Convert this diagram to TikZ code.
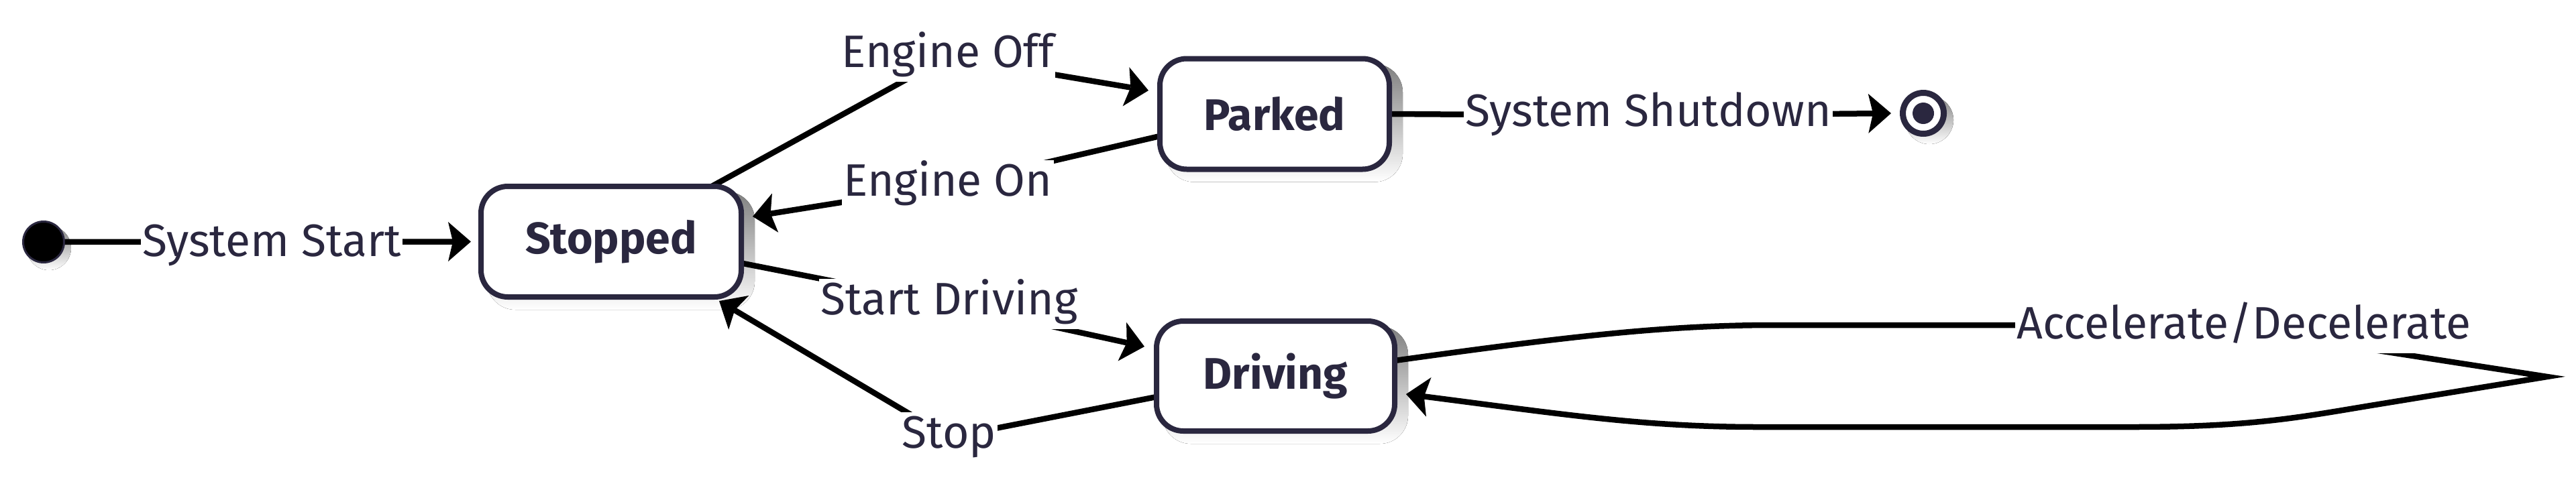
\documentclass[tikz,border=0pt]{standalone}
\usepackage{fontspec}
\setmainfont{Fira Sans}
\usetikzlibrary{arrows.meta,calc}
\definecolor{ink}{HTML}{2A273F}
\definecolor{shade}{HTML}{ECECEC}
\pgfdeclarelayer{shadowlayer}
\pgfdeclarelayer{edgelayer}
\pgfsetlayers{shadowlayer,edgelayer,main}
\begin{document}
\begin{tikzpicture}[
  statebox/.style={draw=ink, line width=0.08cm, fill=white, rounded corners=0.40cm, outer sep=0pt, inner sep=0pt, minimum height=1.65cm, text=ink, font=\fontsize{18.8}{22}\selectfont\bfseries},
  lbl/.style={fill=white, text=ink, inner xsep=0.02cm, inner ysep=0.05cm, text height=0.48cm, text depth=0.17cm, anchor=base, font=\fontsize{19.3}{22}\selectfont},
  conn/.style={draw=black, line width=0.085cm},
  arr/.style={conn, -{Stealth[length=0.34cm, width=0.59cm, inset=0.07cm, line width=0pt]}},
  startdot/.style={circle, fill=black, draw=ink, line width=0.03cm, minimum size=0.61cm, inner sep=0pt, outer sep=0pt},
  enddot/.style={circle, fill=white, draw=ink, line width=0.09cm, minimum size=0.61cm, inner sep=0pt, outer sep=0pt},
]
\useasboundingbox (0,0) rectangle (38.4,-7.33);

% states
\node[startdot] (init) at (0.65,-3.61) {};
\node[statebox, minimum width=3.88cm] (stopped) at (9.11,-3.605) {Stopped};
\node[statebox, minimum width=3.42cm] (parked) at (19.00,-1.70) {Parked};
\node[statebox, minimum width=3.55cm, minimum height=1.64cm] (driving) at (19.015,-5.61) {Driving};
\node[enddot] (final) at (28.67,-1.69) {};
\fill[ink] (final.center) circle (0.16);

% labels
\node[lbl] (sstart) at (4.05,-3.82) {System Start};
\node[lbl] (eoff) at (14.13,-1.00) {Engine Off};
\node[lbl] (eon) at (14.13,-2.92) {Engine On};
\node[lbl] (sdrive) at (14.15,-4.69) {Start Driving};
\node[lbl] (stop) at (14.15,-6.68) {Stop};
\node[lbl] (shut) at (24.57,-1.88) {System Shutdown};
\node[lbl] (accel) at (33.45,-5.05) {Accelerate/Decelerate};

% shadows
\begin{pgfonlayer}{shadowlayer}
\foreach \n in {stopped,parked,driving}{
  \fill[shade, rounded corners=0.42cm] ($(\n.south west)+(0.09,-0.19)$) rectangle ($(\n.north east)+(0.20,-0.08)$);
}
\fill[shade] ($(init.center)+(0.08,-0.09)$) circle (0.33);
\fill[shade] ($(final.center)+(0.09,-0.10)$) circle (0.36);
\end{pgfonlayer}

% connectors
\begin{pgfonlayer}{edgelayer}
\draw[arr] (init) -- ($(stopped.west)+(-0.15,0)$);
\draw[arr] ($(stopped.north)+(1.50,0)$) -- (eoff.center) -- ($(parked.west)+(-0.17,0.35)$);
\draw[arr] ($(parked.west)+(0,-0.33)$) -- (eon.center) -- ($(stopped.east)+(0.17,0.375)$);
\draw[arr] ($(stopped.east)+(0,-0.32)$) -- (sdrive.center) -- ($(driving.west)+(-0.18,0.44)$);
\draw[arr] ($(driving.west)+(0,-0.31)$) -- (stop.center) -- ($(stopped.south)+(1.61,-0.06)$);
\draw[arr] (parked.east) -- (shut.center) -- ($(final.west)+(-0.175,0)$);
\draw[arr] ($(driving.east)+(0,0.23)$) .. controls (23.3,-5.03) and (24.8,-4.85) .. (26.44,-4.85)
  -- (33.0,-4.85) -- (37.97,-5.62) -- (35.4,-6.04)
  .. controls (34.3,-6.22) and (33.6,-6.37) .. (31.8,-6.37)
  -- (26.21,-6.37) .. controls (24.5,-6.37) and (23.3,-6.18) .. ($(driving.east)+(0.17,-0.27)$);
\end{pgfonlayer}
\end{tikzpicture}
\end{document}
